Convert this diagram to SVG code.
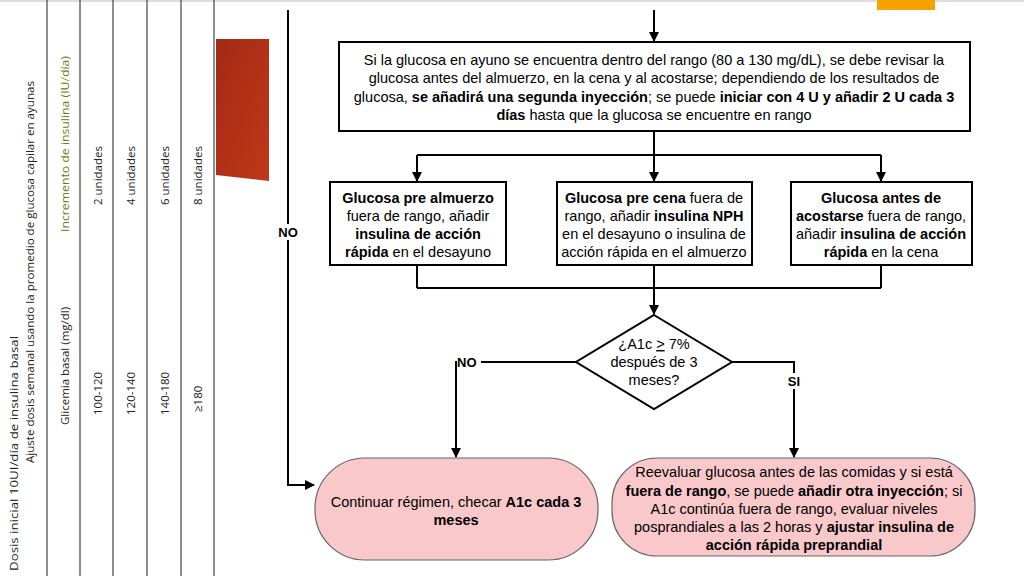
<svg xmlns="http://www.w3.org/2000/svg" width="1024" height="576" viewBox="0 0 1024 576">
<defs>
<marker id="arr" markerWidth="10" markerHeight="10" refX="9" refY="5" orient="auto" markerUnits="userSpaceOnUse">
<path d="M0,0 L10,5 L0,10 z" fill="#000"/>
</marker>
<linearGradient id="red" x1="0" y1="0" x2="1" y2="1">
<stop offset="0" stop-color="#a32a15"/>
<stop offset="1" stop-color="#c03818"/>
</linearGradient>
</defs>
<style>
.tbl{font-family:"Open Sans","Liberation Sans",sans-serif;font-size:11.5px;fill:#222}
.grn{fill:#6b7d12}
.box{fill:#fff;stroke:#000;stroke-width:2}
.pill{fill:#f9c8cb;stroke:#666;stroke-width:1.2}
.t{font-family:"Liberation Sans",Arial,sans-serif;font-size:14.5px;fill:#000;text-anchor:middle}
.b{font-weight:bold}
.ln{fill:none;stroke:#000;stroke-width:2}
.lbl{font-family:"Liberation Sans",Arial,sans-serif;font-size:13px;font-weight:bold;fill:#000}
.grid{stroke:#444;stroke-width:1.2}
</style>
<rect width="1024" height="576" fill="#fff"/>
<line x1="0" y1="1" x2="1024" y2="1" stroke="#ddd" stroke-width="2"/>
<rect x="877" y="0" width="58" height="10" fill="#f5a300"/>

<g id="table">
<line class="grid" x1="47" y1="0" x2="47" y2="576"/>
<line class="grid" x1="80" y1="0" x2="80" y2="576"/>
<line class="grid" x1="113" y1="0" x2="113" y2="576"/>
<line class="grid" x1="147" y1="0" x2="147" y2="576"/>
<line class="grid" x1="181" y1="0" x2="181" y2="576"/>
<line class="grid" x1="214" y1="0" x2="214" y2="576"/>
<text class="tbl" transform="translate(18,571) rotate(-90)" textLength="235" lengthAdjust="spacingAndGlyphs">Dosis inicial 10UI/día de insulina basal</text>
<text class="tbl" transform="translate(34,463) rotate(-90)" textLength="382" lengthAdjust="spacingAndGlyphs">Ajuste dosis semanal usando la promedio de glucosa capilar en ayunas</text>
<text class="tbl" transform="translate(69,425) rotate(-90)">Glicemia basal (mg/dl)</text>
<text class="tbl grn" transform="translate(69,232) rotate(-90)" textLength="176" lengthAdjust="spacingAndGlyphs">Incremento de insulina (IU/día)</text>
<text class="tbl" transform="translate(102,415) rotate(-90)">100-120</text>
<text class="tbl" transform="translate(102,205) rotate(-90)">2 unidades</text>
<text class="tbl" transform="translate(135,415) rotate(-90)">120-140</text>
<text class="tbl" transform="translate(135,205) rotate(-90)">4 unidades</text>
<text class="tbl" transform="translate(169,415) rotate(-90)">140-180</text>
<text class="tbl" transform="translate(169,205) rotate(-90)">6 unidades</text>
<text class="tbl" transform="translate(202,412) rotate(-90)">≥180</text>
<text class="tbl" transform="translate(202,205) rotate(-90)">8 unidades</text>
</g>
<polygon points="216,39 269,39 269,181 216,175" fill="url(#red)"/>

<g id="connectors">
<path class="ln" d="M654,10 V41" marker-end="url(#arr)"/>
<path class="ln" d="M654,131 V155"/>
<path class="ln" d="M417,155 H881"/>
<path class="ln" d="M417,155 V181" marker-end="url(#arr)"/>
<path class="ln" d="M654,155 V181" marker-end="url(#arr)"/>
<path class="ln" d="M881,155 V181" marker-end="url(#arr)"/>
<path class="ln" d="M417,265 V288 M654,265 V288 M881,265 V288"/>
<path class="ln" d="M417,288 H881"/>
<path class="ln" d="M654,288 V314" marker-end="url(#arr)"/>
<path class="ln" d="M576,362 H456 V457" marker-end="url(#arr)"/>
<path class="ln" d="M732,362 H794 V457" marker-end="url(#arr)"/>
<path class="ln" d="M288,10 V485 H314" marker-end="url(#arr)"/>
<rect x="275" y="224" width="27" height="16" fill="#fff"/>
<text class="lbl" x="288" y="237" text-anchor="middle">NO</text>
<rect x="457" y="354" width="24" height="16" fill="#fff"/>
<text class="lbl" x="457" y="367">NO</text>
<rect x="785" y="373" width="18" height="16" fill="#fff"/>
<text class="lbl" x="794" y="386" text-anchor="middle">SI</text>
</g>

<g id="n_top">
<rect class="box" x="339" y="42" width="631" height="89"/>
<text class="t" x="654" y="65">Si la glucosa en ayuno se encuentra dentro del rango (80 a 130 mg/dL), se debe revisar la</text>
<text class="t" x="654" y="83">glucosa antes del almuerzo, en la cena y al acostarse; dependiendo de los resultados de</text>
<text class="t" x="654" y="102">glucosa, <tspan class="b">se añadirá una segunda inyección</tspan>; se puede <tspan class="b">iniciar con 4 U y añadir 2 U cada 3</tspan></text>
<text class="t" x="654" y="120"><tspan class="b">días</tspan> hasta que la glucosa se encuentre en rango</text>
</g>

<g id="n_almuerzo">
<rect class="box" x="330" y="182" width="176" height="83"/>
<text class="t" x="418" y="203"><tspan class="b">Glucosa pre almuerzo</tspan></text>
<text class="t" x="418" y="221">fuera de rango, añadir</text>
<text class="t" x="418" y="239"><tspan class="b">insulina de acción</tspan></text>
<text class="t" x="418" y="257"><tspan class="b">rápida</tspan> en el desayuno</text>
</g>

<g id="n_cena">
<rect class="box" x="557" y="182" width="195" height="83"/>
<text class="t" x="654" y="203"><tspan class="b">Glucosa pre cena</tspan> fuera de</text>
<text class="t" x="654" y="221">rango, añadir <tspan class="b">insulina NPH</tspan></text>
<text class="t" x="654" y="239">en el desayuno o insulina de</text>
<text class="t" x="654" y="257">acción rápida en el almuerzo</text>
</g>

<g id="n_acostarse">
<rect class="box" x="791" y="182" width="181" height="83"/>
<text class="t" x="881" y="203"><tspan class="b">Glucosa antes de</tspan></text>
<text class="t" x="881" y="221"><tspan class="b">acostarse</tspan> fuera de rango,</text>
<text class="t" x="881" y="239">añadir <tspan class="b">insulina de acción</tspan></text>
<text class="t" x="881" y="257"><tspan class="b">rápida</tspan> en la cena</text>
</g>

<g id="n_decision">
<polygon points="654,315 732,362 654,409 576,362" fill="#fff" stroke="#000" stroke-width="2"/>
<text class="t" x="654" y="349">¿A1c <tspan text-decoration="underline">&gt;</tspan> 7%</text>
<text class="t" x="654" y="367">después de 3</text>
<text class="t" x="654" y="385">meses?</text>
</g>

<g id="n_continuar">
<rect class="pill" x="315" y="458" width="283" height="102" rx="50" ry="50"/>
<text class="t" x="456" y="507">Continuar régimen, checar <tspan class="b">A1c cada 3</tspan></text>
<text class="t" x="456" y="525"><tspan class="b">meses</tspan></text>
</g>

<g id="n_reevaluar">
<rect class="pill" x="612" y="458" width="363" height="98" rx="45" ry="45"/>
<text class="t" x="794" y="477">Reevaluar glucosa antes de las comidas y si está</text>
<text class="t" x="794" y="496"><tspan class="b">fuera de rango</tspan>, se puede <tspan class="b">añadir otra inyección</tspan>; si</text>
<text class="t" x="794" y="514">A1c continúa fuera de rango, evaluar niveles</text>
<text class="t" x="794" y="532">posprandiales a las 2 horas y <tspan class="b">ajustar insulina de</tspan></text>
<text class="t" x="794" y="550"><tspan class="b">acción rápida preprandial</tspan></text>
</g>
</svg>
